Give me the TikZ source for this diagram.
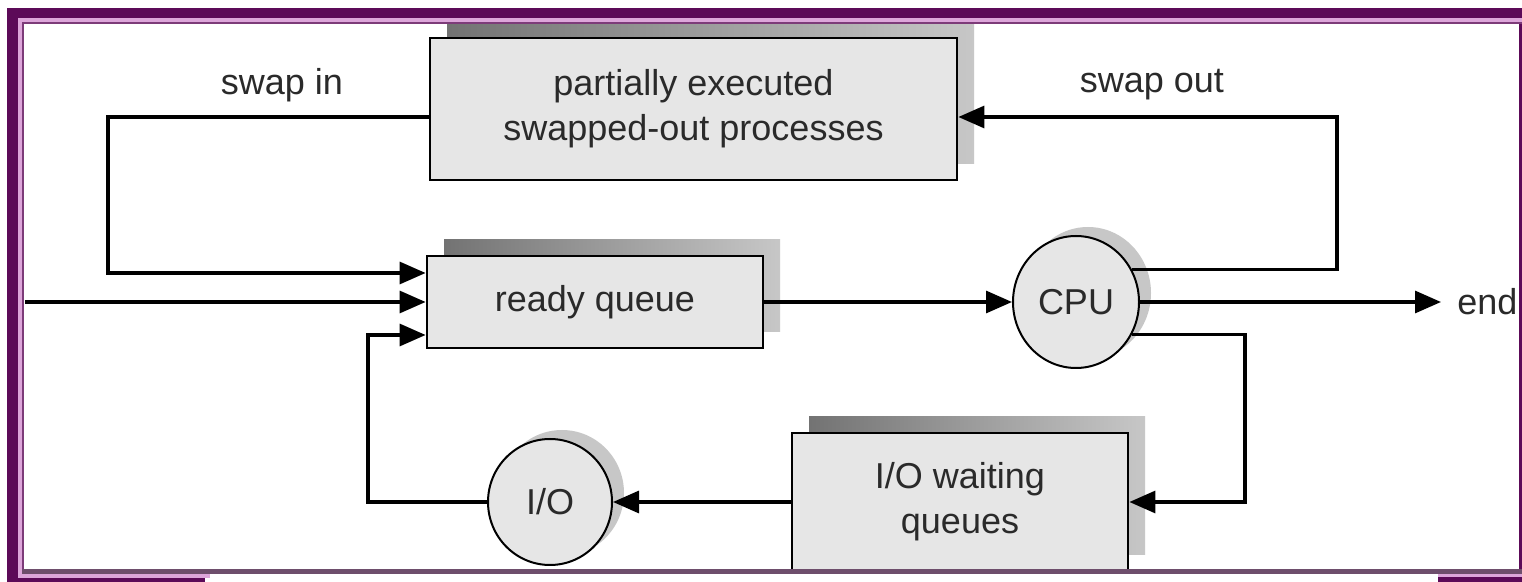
\documentclass[tikz,border=0pt]{standalone}
\usepackage{fontspec}
\setmainfont{Liberation Sans}
\usetikzlibrary{arrows.meta,shadows,shapes.geometric}
\definecolor{framepurple}{HTML}{5C0A58}
\definecolor{framepink}{HTML}{DDA6DA}
\definecolor{framegray}{HTML}{6E4E6C}
\definecolor{boxgray}{HTML}{E6E6E6}
\definecolor{labelgray}{HTML}{2A2A2A}
\tikzset{
    queue-box/.style = {draw=black, fill=boxgray, line width=1.4pt, rectangle, inner sep=0pt, align=center, text=labelgray,
        general shadow={shadow xshift=8.5pt, shadow yshift=8pt, left color=black!55, right color=black!22, draw=none}},
    device/.style = {draw=black, fill=boxgray, line width=1pt, ellipse, inner sep=0pt, text=labelgray,
        general shadow={shadow xshift=6pt, shadow yshift=4.5pt, fill=black!22, draw=none}},
    flow/.style = {draw=black, line width=1.6pt, -{Triangle[length=13pt,width=11pt]}},
    flow-label/.style = {text=labelgray},
}

\begin{document}
\begin{tikzpicture}[x=0.5pt, y=-0.5pt, font=\fontsize{18}{22.5}\selectfont]
\useasboundingbox (0,0) rectangle (1522,582);
\fill[white] (0,0) rectangle (1522,582);

% queues and devices
\node[queue-box, minimum width=263.5pt, minimum height=71pt] (swapped) at (693.5,109) {partially executed\\swapped-out processes};
\node[queue-box, minimum width=168pt, minimum height=46pt] (ready) at (595,302) {ready queue};
\node[device, minimum width=63pt, minimum height=66pt] (cpu) at (1076,302) {CPU};
\node[queue-box, minimum width=168pt, minimum height=69pt] (iowait) at (960,502) {I/O waiting\\queues};
\node[device, minimum width=62pt, minimum height=63pt] (io) at (550,502) {I/O};

\node[flow-label, anchor=west, inner xsep=8pt, inner ysep=0pt] (done) at (1441,302) {end};
\node[flow-label] (swapinlbl) at (282,85) {swap in};
\node[flow-label] (swapoutlbl) at (1152,85) {swap out};

\coordinate (newjob) at (25,302);
\coordinate (inturn) at (108,117);
\coordinate (outturn) at (1337,117);
\coordinate (downturn) at (1245,502);
\coordinate (upturn) at (368,502);

% connectors
\draw[flow] (newjob) -- (ready.west);
\draw[flow] (swapped.west |- inturn) -- (inturn) |- ([yshift=14.5pt]ready.west);
\draw[flow] (io.west) -- (upturn) |- ([yshift=-16.5pt]ready.west);
\draw[flow] (ready.east) -- (cpu.west);
\draw[flow] (cpu.east) -- (done.west);
\draw[flow] (cpu.30) -| (outturn) -- (swapped.east |- outturn);
\draw[flow] (cpu.-30) -| (downturn) -- (iowait.east);
\draw[flow] (iowait.west) -- (io.east);

% frame
\fill[framepurple] (7,8) rectangle (1522,18);
\fill[framepurple] (7,8) rectangle (18,582);
\fill[framepink] (18,18) rectangle (1522,22);
\fill[framepink] (18,18) rectangle (22,578);
\fill[framepurple!80] (22,22) rectangle (1522,24);
\fill[framepurple!80] (22,22) rectangle (24,574);
\fill[framepurple] (1519,24) rectangle (1522,576);
\fill[framegray] (22,569) rectangle (1522,574);
\fill[framepink] (18,574) rectangle (210,578);
\fill[framepurple] (7,578) rectangle (205,582);
\fill[framepink] (1438,574) rectangle (1522,577);
\fill[framepurple] (1438,577) rectangle (1522,582);
\end{tikzpicture}
\end{document}
